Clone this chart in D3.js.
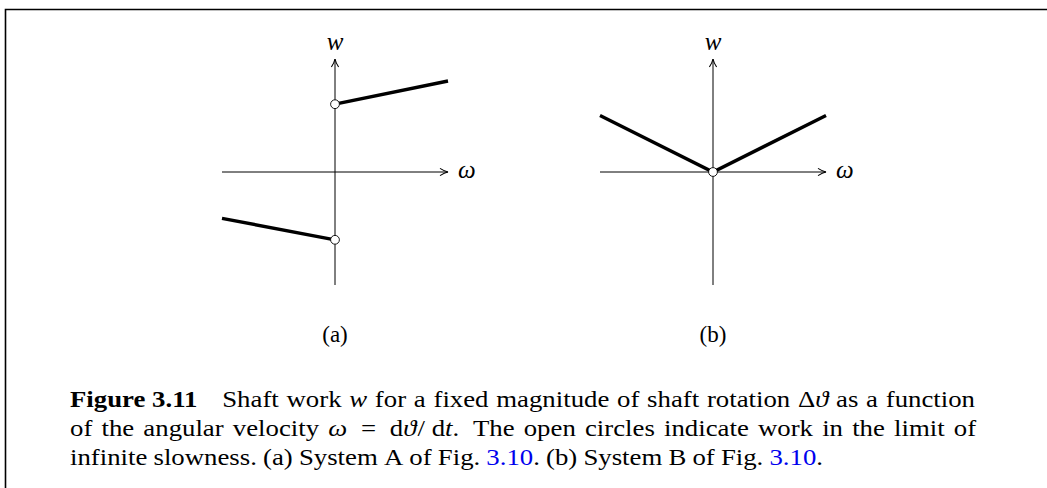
<!DOCTYPE html>
<html><head><meta charset="utf-8">
<script src="https://cdn.jsdelivr.net/npm/d3@7"></script>
<style>body{margin:0;background:#fff}svg{display:block}</style>
</head><body>
<script>
// ---- data ----
const panelLabels = ["(a)", "(b)"];
const aUpperX = [0, 1], aUpperY = [0.60, 0.805];
const aLowerX = [-1, 0], aLowerY = [-0.41, -0.60];
const bX = [-1, 0, 1], bY = [0.50, 0, 0.50];
const aCircles = [[0, 0.60], [0, -0.60]];
const bCircles = [[0, 0]];
const captionLines = [
  [["Figure 3.11","b"],["Shaft","","w"],["work"],["w","i"],["for"],["a"],["fixed"],["magnitude"],["of"],["shaft"],["rotation"],["Δ"],["ϑ","i","j"],["as"],["a"],["function"]],
  [["of"],["the"],["angular"],["velocity"],["ω","i"],["=","","m"],["d","","m"],["ϑ","i","j"],["/ d","","j"],["t","i","j"],[".","","j"],["The","","m"],["open"],["circles"],["indicate"],["work"],["in"],["the"],["limit"],["of"]],
  [["infinite"],["slowness."],["(a)"],["System"],["A"],["of"],["Fig."],["3.10","l"],[".","","j"],["(b)"],["System"],["B"],["of"],["Fig."],["3.10","l"],[".","","j"]]
];

const W = 1047, H = 488;
const svg = d3.select("body").append("svg").attr("width", W).attr("height", H);

// frame
svg.append("path").attr("d", `M5.5,${H} L5.5,9.5 L${W},9.5`).attr("fill","none").attr("stroke","#000").attr("stroke-width",1.6);

const defs = svg.append("defs");
defs.append("marker").attr("id","arr").attr("viewBox","-9 -5 11 10").attr("refX",0).attr("refY",0)
  .attr("markerWidth",11).attr("markerHeight",10).attr("markerUnits","userSpaceOnUse").attr("orient","auto")
  .append("path").attr("d","M-8,-3.6 Q-3.5,-0.7 0,0 Q-3.5,0.7 -8,3.6").attr("fill","none").attr("stroke","#000").attr("stroke-width",1.1);

const y = d3.scaleLinear([-1, 1], [285, 59]);
const panels = [
  {x: d3.scaleLinear([-1, 1], [222, 448]), segs: [[aUpperX, aUpperY], [aLowerX, aLowerY]], circles: aCircles, label: panelLabels[0]},
  {x: d3.scaleLinear([-1, 1], [600, 826]), segs: [[bX, bY]], circles: bCircles, label: panelLabels[1]}
];
const line = d3.line();
panels.forEach(p => {
  const g = svg.append("g");
  const x0 = p.x(0), y0 = y(0);
  g.append("line").attr("x1", p.x(-1)).attr("x2", p.x(1)).attr("y1", y0).attr("y2", y0)
    .attr("stroke","#000").attr("stroke-width",1).attr("marker-end","url(#arr)");
  g.append("line").attr("x1", x0).attr("x2", x0).attr("y1", y(-1)).attr("y2", y(1))
    .attr("stroke","#000").attr("stroke-width",1).attr("marker-end","url(#arr)");
  g.append("text").attr("x", x0).attr("y", 50).attr("text-anchor","middle")
    .attr("font-family","Liberation Serif").attr("font-style","italic").attr("font-size",25).text("w");
  g.append("text").attr("x", p.x(1) + 10).attr("y", y0 + 6).attr("text-anchor","start")
    .attr("font-family","Liberation Serif").attr("font-style","italic").attr("font-size",25).text("ω");
  p.segs.forEach(([xs, ys]) => {
    g.append("path").attr("d", line(xs.map((v, i) => [p.x(v), y(ys[i])])))
      .attr("fill","none").attr("stroke","#000").attr("stroke-width",3.4);
  });
  g.selectAll("circle").data(p.circles).join("circle")
    .attr("cx", d => p.x(d[0])).attr("cy", d => y(d[1])).attr("r", 4.4)
    .attr("fill","#fff").attr("stroke","#000").attr("stroke-width",0.9);
  g.append("text").attr("x", x0).attr("y", 342).attr("text-anchor","middle")
    .attr("font-family","Liberation Serif").attr("font-size",23).text(p.label);
});

// caption with justification (slightly wide glyphs, as in the reference)
const capLeft = 70, lineRights = [975, 975, 823], baselines = [407, 436, 465];
const sx = 1.14;
captionLines.forEach((toks, li) => {
  const g = svg.append("g").attr("transform", `translate(${capLeft},${baselines[li]}) scale(${sx},1)`);
  const t = g.append("text").attr("y", 0).attr("font-family","Liberation Serif").attr("font-size",23.5).attr("fill","#000");
  const style = (s, tk) => {
    if (tk[1] === "b") s.attr("font-weight","bold");
    if (tk[1] === "i") s.attr("font-style","italic");
    if (tk[1] === "l") s.attr("fill","#0000ee");
  };
  const widths = toks.map(tk => {
    const s = t.append("tspan").text(tk[0]);
    style(s, tk);
    const w = s.node().getComputedTextLength();
    s.remove();
    return w;
  });
  const wts = toks.map((tk, i) => i === 0 ? 0 : (tk[2] === "j" ? 0 : (tk[2] === "w" ? 3.2 : (tk[2] === "m" ? 1.5 : 1))));
  const gap = ((lineRights[li] - capLeft) / sx - d3.sum(widths)) / d3.sum(wts);
  let xPos = 0;
  toks.forEach((tk, i) => {
    xPos += wts[i] * gap;
    if (tk[2] === "j" && tk[0].startsWith("/")) xPos += 1;
    const s = t.append("tspan").attr("x", xPos).text(tk[0]);
    style(s, tk);
    xPos += widths[i];
  });
});
</script>
</body></html>
